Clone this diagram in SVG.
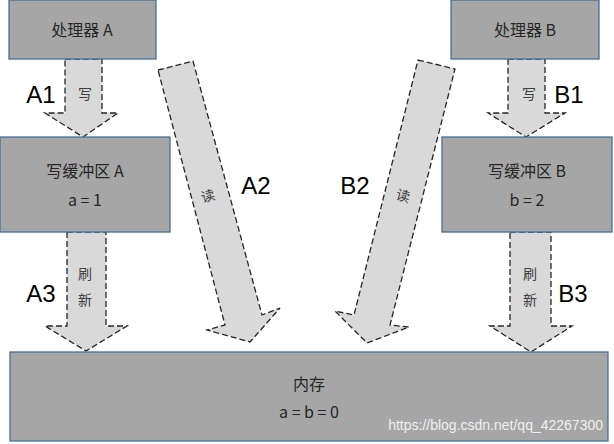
<svg xmlns="http://www.w3.org/2000/svg" width="614" height="444" viewBox="0 0 614 444">
<style>
.box{fill:#a6a6a6;stroke:#41719c;stroke-width:1.3}
.arr{fill:#d9d9d9;stroke:#262626;stroke-width:1.3;stroke-dasharray:6,3}
.t{font-family:"Noto Sans CJK SC","Noto Sans",sans-serif;font-size:16px;fill:#262626;text-anchor:middle}
.s{font-family:"Noto Sans CJK SC",sans-serif;font-size:14px;fill:#404040;text-anchor:middle}
.l{font-family:"Liberation Sans",sans-serif;font-size:24px;fill:#000;text-anchor:middle}
</style>
<rect width="614" height="444" fill="#fff"/>
<g id="connectors">
<polygon class="arr" points="65,59 102,59 102,113 118,113 83,137 45,113 65,113"/>
<polygon class="arr" points="67,232 106,232 106,326 127,326 86,351 45,326 67,326"/>
<polygon class="arr" points="158,70 193,61 262,315 280,308 250,342 207,330 225,325"/>
<polygon class="arr" points="508,59 545,59 545,113 565,113 526,137 488,113 508,113"/>
<polygon class="arr" points="510,232 551,232 551,326 572,326 531,352 490,326 510,326"/>
<polygon class="arr" points="418,60 455,69 390,325 409,327 367,343 335,311 354,315"/>
<text class="s" x="85" y="99">写</text>
<text class="s" x="85" y="279">刷</text>
<text class="s" x="85" y="305">新</text>
<text class="s" x="529" y="99">写</text>
<text class="s" x="530" y="279">刷</text>
<text class="s" x="530" y="305">新</text>
<text class="s" x="208" y="201" transform="rotate(-15 208 196)">读</text>
<text class="s" x="403" y="201" transform="rotate(15 403 196)">读</text>
<text class="l" x="41" y="103">A1</text>
<text class="l" x="41" y="302">A3</text>
<text class="l" x="256" y="194">A2</text>
<text class="l" x="355" y="194">B2</text>
<text class="l" x="569" y="103">B1</text>
<text class="l" x="573" y="302">B3</text>
</g>
<g id="procA"><rect class="box" x="9" y="0" width="147" height="59"/><text class="t" x="82" y="36">处理器 A</text></g>
<g id="procB"><rect class="box" x="451" y="0" width="148" height="59"/><text class="t" x="525" y="36">处理器 B</text></g>
<g id="bufA"><rect class="box" x="0" y="137" width="170" height="95"/><text class="t" x="85" y="177">写缓冲区 A</text><text class="t" x="85" y="206">a = 1</text></g>
<g id="bufB"><rect class="box" x="442" y="137" width="170" height="95"/><text class="t" x="527" y="177">写缓冲区 B</text><text class="t" x="527" y="206">b = 2</text></g>
<g id="mem"><rect class="box" x="10" y="352" width="598" height="89"/><text class="t" x="309" y="390">内存</text><text class="t" x="309" y="418">a = b = 0</text>
<text x="603" y="430" font-family="Liberation Sans,sans-serif" font-size="14" fill="#f0f0f0" text-anchor="end">https://blog.csdn.net/qq_42267300</text></g>
</svg>
